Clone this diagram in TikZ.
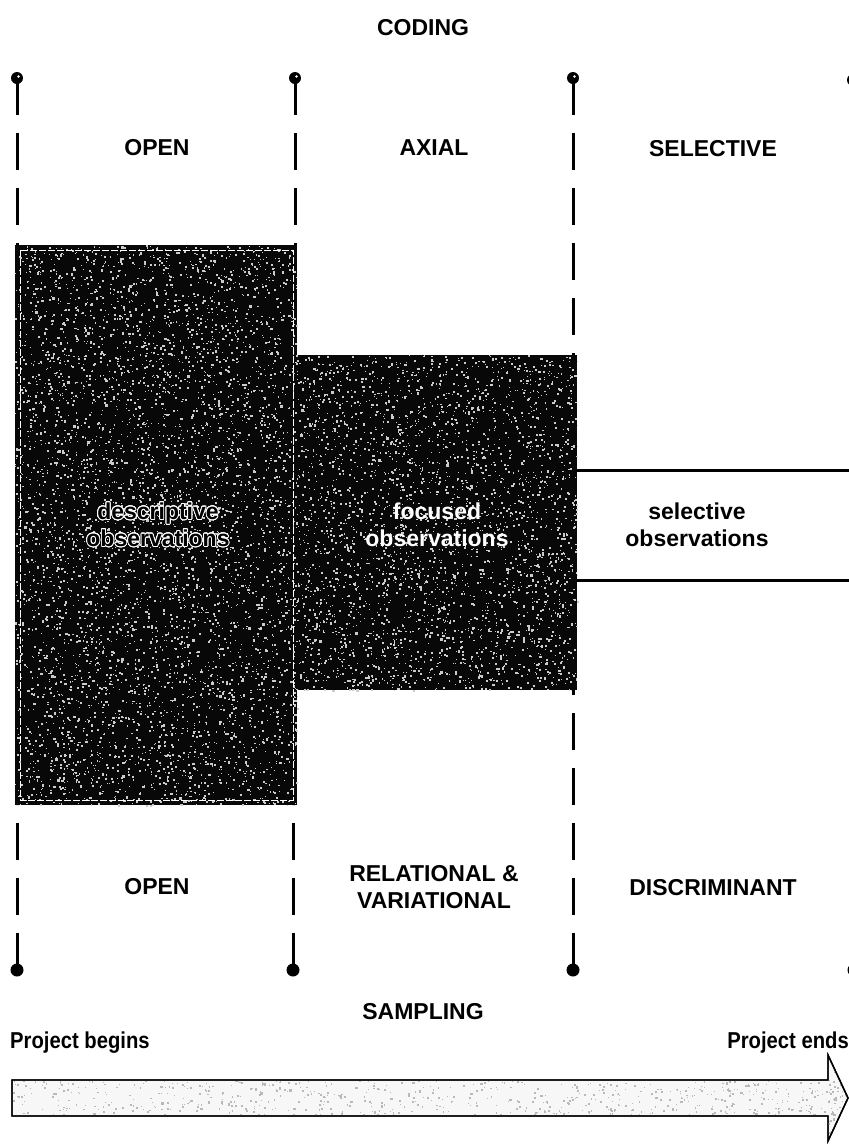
\documentclass[tikz,border=0pt]{standalone}
\usepackage{fontspec}
\setmainfont{Liberation Sans}
\usepackage{contour}
\contourlength{0.8pt}
\contournumber{24}

% random speckle inside a rectangle: x0,y0,x1,y1,count,colour
\newcommand\spray[6]{%
  \foreach \k in {1,...,#5}{%
    \pgfmathsetmacro\sx{#1+rnd*(#3-#1)}%
    \pgfmathsetmacro\sy{#2+rnd*(#4-#2)}%
    \pgfmathsetmacro\ss{0.7+1.6*rnd}%
    \fill[#6] (\sx,\sy) rectangle ++(\ss,\ss);
  }}

\begin{document}
\begin{tikzpicture}[x=1pt,y=-1pt,
  lbl/.style={font=\fontsize{23}{27}\selectfont\bfseries, align=center, inner sep=0pt},
  whitelbl/.style={lbl, text=white},
  sepline/.style={line width=3pt, dash pattern=on 37pt off 18pt, line cap=butt},
  pintop/.style={circle, fill=black, inner sep=0pt, minimum size=12pt},
  pinbot/.style={circle, fill=black, inner sep=0pt, minimum size=13pt},
  darkbox/.style={fill=black!97},
  band/.style={line width=3pt},
  arrowline/.style={draw=black, line width=1.4pt, fill=gray!6, line join=miter}]

\pgfmathsetseed{7}
\useasboundingbox (0,0) rectangle (849,1144);

% ---- column separators: pin heads and dashed lines ----
\node[pintop] (t1) at (17,78) {};
\node[pintop] (t2) at (295,78) {};
\node[pintop] (t3) at (573,78) {};
\node[pintop] (t4) at (853,80) {};
\node[pinbot] (b1) at (17,970) {};
\node[pinbot] (b2) at (293,970) {};
\node[pinbot] (b3) at (573,970) {};
\node[pinbot] (b4) at (854,970) {};

\coordinate (t1e) at (17,245);
\coordinate (t2e) at (295,245);
\coordinate (t3e) at (573,355);
\coordinate (b1e) at (17,805);
\coordinate (b2e) at (293,805);
\coordinate (b3e) at (573,690);

\draw[sepline] (t1.center) -- (t1e);
\draw[sepline] (t2.center) -- (t2e);
\draw[sepline] (t3.center) -- (t3e);
\draw[sepline] (b1.center) -- (b1e);
\draw[sepline] (b2.center) -- (b2e);
\draw[sepline] (b3.center) -- (b3e);

% small highlights on the upper pin heads
\foreach \p in {t1,t2,t3}{\fill[white] ([shift={(1.5,-1.5)}]\p.center) circle (1.3);}

% ---- dark observation blocks ----
\fill[darkbox] (15,245) rectangle (297,805);
\fill[darkbox] (297,355) rectangle (577,690);
\spray{15}{245}{297}{805}{5200}{white!80!black}
\spray{297}{355}{577}{690}{3200}{white!80!black}
\draw[white, line width=0.8pt, dash pattern=on 7pt off 2pt] (20,250) rectangle (293,800);

% ---- selective band ----
\coordinate (s1a) at (577,470);
\coordinate (s1b) at (849,470);
\coordinate (s2a) at (577,580);
\coordinate (s2b) at (849,580);
\draw[band] (s1a) -- (s1b);
\draw[band] (s2a) -- (s2b);

% ---- labels ----
\node[lbl] (coding) at (423,28) {CODING};
\node[lbl] (copen) at (157,148) {OPEN};
\node[lbl] (caxial) at (434,148) {AXIAL};
\node[lbl] (csel) at (713,149) {SELECTIVE};

\node[lbl] (desc) at (158,525) {\contour{white}{descriptive}\\\contour{white}{observations}};
\node[whitelbl] (foc) at (437,525) {focused\\observations};
\node[lbl] (sel) at (697,525) {selective\\observations};

\node[lbl] (sopen) at (157,887) {OPEN};
\node[lbl] (srel) at (434,887) {RELATIONAL \&\\VARIATIONAL};
\node[lbl] (sdisc) at (713,888) {DISCRIMINANT};
\node[lbl] (sampling) at (423,1012) {SAMPLING};

\node[lbl, anchor=west] (pbeg) at (10,1043) {\scalebox{0.88}[1]{Project begins}};
\node[lbl, anchor=east] (pend) at (849,1043) {\scalebox{0.88}[1]{Project ends}};

% ---- time arrow ----
\path[arrowline] (12,1080) -- (828,1080) -- (828,1055) -- (848,1098)
  -- (828,1141) -- (828,1116) -- (12,1116) -- cycle;
\begin{scope}
  \clip (13,1081) -- (828,1081) -- (828,1057) -- (847,1098)
    -- (828,1139) -- (828,1115) -- (13,1115) -- cycle;
  \spray{12}{1080}{849}{1116}{700}{gray!55}
  \spray{828}{1055}{849}{1141}{60}{gray!55}
\end{scope}
\draw[black, line width=1.4pt, line join=miter] (12,1080) -- (828,1080) -- (828,1055) -- (848,1098)
  -- (828,1141) -- (828,1116) -- (12,1116) -- cycle;
\end{tikzpicture}
\end{document}
